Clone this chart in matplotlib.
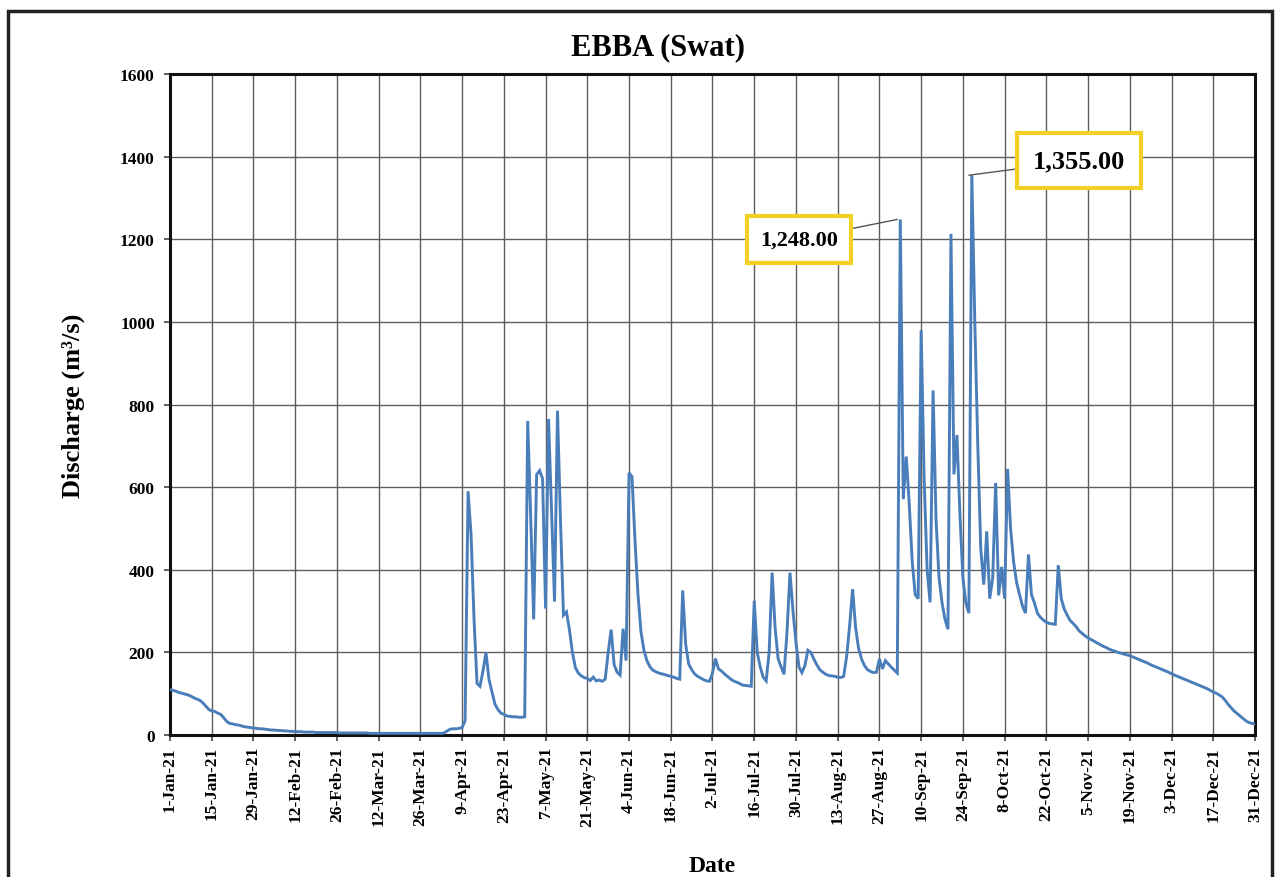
import matplotlib
matplotlib.use("Agg")
import matplotlib.pyplot as plt
import matplotlib.patches as mpatches
import numpy as np
import pandas as pd

# ---------------- data ----------------
start_date = "2021-01-01"
end_date = "2021-12-31"

discharge = [
    # 1 Jan - 14 Jan
    110, 108, 106, 103, 101, 99, 97, 94, 90, 87, 84, 78, 70, 62,
    # 15 Jan - 28 Jan
    58, 57, 53, 50, 42, 33, 28, 27, 25, 24, 22, 20, 19, 18,
    # 29 Jan - 11 Feb
    17, 16, 15, 15, 14, 13, 12, 12, 11, 11, 10, 10, 9, 9,
    # 12 Feb - 25 Feb
    8, 8, 8, 7, 7, 7, 7, 6, 6, 6, 6, 6, 6, 6,
    # 26 Feb - 11 Mar
    6, 5, 5, 5, 5, 5, 5, 5, 5, 5, 5, 4, 4, 4,
    # 12 Mar - 25 Mar
    4, 4, 4, 4, 4, 4, 4, 4, 4, 4, 4, 4, 4, 4,
    # 26 Mar - 8 Apr
    4, 4, 4, 4, 4, 4, 4, 4, 5, 10, 14, 15, 15, 16,
    # 9 Apr - 22 Apr
    18, 35, 590, 485, 280, 125, 118, 155, 200, 135, 105, 75, 62, 53,
    # 23 Apr - 6 May
    50, 46, 45, 44, 44, 43, 43, 44, 760, 530, 280, 630, 640, 620,
    # 7 May - 20 May
    306, 765, 540, 323, 785, 520, 290, 298, 255, 200, 163, 150, 143, 139,
    # 21 May - 3 Jun
    137, 132, 140, 131, 133, 130, 135, 200, 255, 170, 152, 145, 257, 180,
    # 4 Jun - 17 Jun
    635, 625, 470, 340, 250, 205, 180, 165, 157, 153, 150, 148, 146, 144,
    # 18 Jun - 1 Jul
    142, 140, 137, 135, 350, 220, 172, 158, 148, 142, 138, 134, 131, 130,
    # 2 Jul - 15 Jul
    150, 185, 160, 155, 148, 142, 136, 131, 128, 125, 121, 120, 119, 118,
    # 16 Jul - 29 Jul
    325, 200, 165, 140, 131, 200, 393, 260, 185, 165, 147, 250, 393, 300,
    # 30 Jul - 12 Aug
    224, 165, 151, 168, 205, 200, 184, 170, 158, 152, 147, 144, 143, 142,
    # 13 Aug - 26 Aug
    140, 139, 142, 190, 264, 353, 260, 210, 184, 168, 158, 154, 151, 152,
    # 27 Aug - 9 Sep
    184, 160, 180, 172, 164, 157, 150, 1248, 571, 674, 560, 420, 340, 330,
    # 10 Sep - 23 Sep
    980, 620, 400, 321, 834, 520, 380, 320, 280, 256, 1213, 631, 726, 536,
    # 24 Sep - 7 Oct
    380, 320, 295, 1355, 1000, 700, 450, 364, 493, 330, 380, 610, 338, 407,
    # 8 Oct - 21 Oct
    330, 644, 500, 420, 370, 340, 312, 295, 437, 340, 320, 295, 285, 278,
    # 22 Oct - 4 Nov
    273, 270, 269, 268, 411, 330, 305, 290, 277, 270, 262, 252, 246, 240,
    # 5 Nov - 18 Nov
    235, 231, 227, 223, 219, 215, 212, 208, 205, 203, 200, 198, 196, 194,
    # 19 Nov - 2 Dec
    192, 189, 186, 183, 180, 177, 174, 170, 167, 164, 161, 158, 155, 152,
    # 3 Dec - 16 Dec
    148, 145, 142, 139, 136, 133, 130, 127, 124, 121, 118, 115, 112, 108,
    # 17 Dec - 31 Dec
    104, 101, 97, 92, 84, 74, 66, 58, 52, 46, 40, 34, 30, 28, 27,
]

tick_labels = [
    "1-Jan-21", "15-Jan-21", "29-Jan-21", "12-Feb-21", "26-Feb-21",
    "12-Mar-21", "26-Mar-21", "9-Apr-21", "23-Apr-21", "7-May-21",
    "21-May-21", "4-Jun-21", "18-Jun-21", "2-Jul-21", "16-Jul-21",
    "30-Jul-21", "13-Aug-21", "27-Aug-21", "10-Sep-21", "24-Sep-21",
    "8-Oct-21", "22-Oct-21", "5-Nov-21", "19-Nov-21", "3-Dec-21",
    "17-Dec-21", "31-Dec-21",
]
y_ticks = [0, 200, 400, 600, 800, 1000, 1200, 1400, 1600]

title = "EBBA (Swat)"
x_label = "Date"
y_label = "Discharge (m\u00b3/s)"

# annotated peaks: (date, value, label)
peak_labels = [("2021-09-02", 1248, "1,248.00"), ("2021-09-26", 1355, "1,355.00")]

# ---------------- plot ----------------
dates = pd.date_range(start_date, end_date, freq="D")
tick_dates = pd.to_datetime(tick_labels, format="%d-%b-%y")

SERIF = ["Liberation Serif", "DejaVu Serif"]
plt.rcParams["font.family"] = SERIF
plt.rcParams["font.weight"] = "bold"

W, H = 1280, 878
fig = plt.figure(figsize=(W / 100, H / 100), dpi=100)
ax = fig.add_axes([170 / W, 1 - 736 / H, (1255 - 170) / W, (736 - 75) / H])

ax.plot(dates, discharge, color="#4A7EBB", lw=2.1, solid_joinstyle="miter", zorder=3)

ax.set_xlim(dates[0], dates[-1])
ax.set_ylim(0, 1600)
ax.set_yticks(y_ticks)
ax.set_yticklabels([str(v) for v in y_ticks], fontsize=12.5, fontweight="bold")
ax.set_xticks(tick_dates)
ax.set_xticklabels(tick_labels, rotation=90, fontsize=12.5, fontweight="bold")
ax.tick_params(axis="both", direction="out", length=4, width=1.2, color="#444444")
ax.tick_params(axis="y", pad=7)
ax.tick_params(axis="x", pad=4)

ax.grid(True, color="#5e5e5e", lw=1.0, zorder=0)
ax.set_axisbelow(True)
for s in ax.spines.values():
    s.set_linewidth(2.2)
    s.set_color("#111111")

ax.set_ylabel(y_label, fontsize=19, fontweight="bold")
ax.yaxis.set_label_coords(-0.078, 0.5)
ax.set_xlabel(x_label, fontsize=17, fontweight="bold")
ax.xaxis.set_label_coords(0.5, -0.197)
ax.xaxis.label.set_verticalalignment("center")

fig.text(658 / W, 1 - 48 / H, title, ha="center", va="center",
         fontsize=22, fontweight="bold")

# annotations
ann_pos = [("2021-07-31", 1200, 16), ("2021-11-02", 1390, 19)]
for (d, v, lab), (tx, ty, fs) in zip(peak_labels, ann_pos):
    ax.annotate(lab, xy=(pd.Timestamp(d), v), xytext=(pd.Timestamp(tx), ty),
                textcoords="data", ha="center", va="center",
                fontsize=fs, fontweight="bold", zorder=5,
                bbox=dict(boxstyle="square,pad=0.6", fc="white",
                          ec="#F2D024", lw=3),
                arrowprops=dict(arrowstyle="-", color="#555555", lw=1.0,
                                shrinkA=0, shrinkB=0))

# outer frame
fig.patches.append(mpatches.Rectangle((8 / W, -0.05), (1272 - 8) / W, (1 - 12 / H) + 0.05,
                                      transform=fig.transFigure, fill=False,
                                      lw=2.5, ec="#222222"))

fig.savefig("out.png", dpi=100)
